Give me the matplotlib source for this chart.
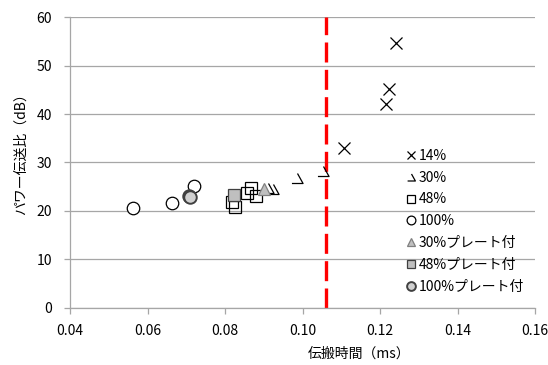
import numpy as np
import matplotlib
matplotlib.use("Agg")
import matplotlib.pyplot as plt
from matplotlib.path import Path
from matplotlib.patches import Rectangle

plt.rcParams['font.family'] = ['Noto Sans CJK JP', 'DejaVu Sans']
plt.rcParams['font.size'] = 10

# data
x14 = [0.1241, 0.1224, 0.1216, 0.1108]
y14 = [54.6, 45.1, 42.1, 32.9]
x30 = [0.0910, 0.0923, 0.0985, 0.1053]
y30 = [24.7, 24.5, 26.7, 28.2]
x48 = [0.0866, 0.0857, 0.0881, 0.0817, 0.0825]
y48 = [24.7, 23.8, 23.1, 21.8, 20.9]
x100 = [0.0563, 0.0663, 0.0719]
y100 = [20.7, 21.7, 25.1]
x30p = [0.0900]
y30p = [24.5]
x48p = [0.0822]
y48p = [23.2]
x100p = [0.0706, 0.0709]
y100p = [23.1, 22.9]
limit_x = 0.106

labels = ["14%", "30%", "48%", "100%", "30%プレート付", "48%プレート付", "100%プレート付"]
xticks = [0.04, 0.06, 0.08, 0.10, 0.12, 0.14, 0.16]
yticks = [0, 10, 20, 30, 40, 50, 60]

# half-drawn triangle like the excel marker (right side + base)
tri = Path([(0, 0.9), (1, -0.9), (-1, -0.9)],
           [Path.MOVETO, Path.LINETO, Path.LINETO])

fig = plt.figure(figsize=(5.48, 3.65), dpi=100)
ax = fig.add_axes([0.1277, 0.157, 0.849, 0.7956])

gray = "#a6a6a6"
ax.set_xlim(0.04, 0.16)
ax.set_ylim(0, 60)
ax.set_xticks(xticks)
ax.set_xticklabels(["%.2f" % v for v in xticks])
ax.set_yticks(yticks)
ax.grid(axis="y", color=gray, lw=0.9, zorder=0)
for s in ["top", "right"]:
    ax.spines[s].set_visible(False)
for s in ["left", "bottom"]:
    ax.spines[s].set_color(gray)
    ax.spines[s].set_linewidth(0.9)
ax.tick_params(axis="both", direction="out", length=4, color=gray, width=0.9, labelsize=10)
ax.tick_params(axis="y", pad=9)
ax.tick_params(axis="x", pad=8)

# white legend area hides the gridlines like in excel
ax.add_patch(Rectangle((0.666, 0.015), 0.334, 0.56, transform=ax.transAxes,
                       facecolor="white", edgecolor="none", zorder=1))

ax.plot([limit_x, limit_x], [0, 60], color="red", lw=2.4, dashes=(6, 2.2), zorder=2)

ms = 8
ax.plot(x14, y14, ls="none", marker="x", ms=ms, mec="black", mew=0.9, label=labels[0], zorder=3)
ax.plot(x30, y30, ls="none", marker=tri, ms=ms, mec="black", mfc="none", mew=0.9, label=labels[1], zorder=3)
ax.plot(x48, y48, ls="none", marker="s", ms=ms, mec="black", mfc="none", mew=0.9, label=labels[2], zorder=3)
ax.plot(x100, y100, ls="none", marker="o", ms=ms + 1, mec="black", mfc="white", mew=0.9, label=labels[3], zorder=3)
ax.plot(x30p, y30p, ls="none", marker="^", ms=ms + 1, mec="#808080", mfc="#bfbfbf", mew=0.9, label=labels[4], zorder=3)
ax.plot(x48p, y48p, ls="none", marker="s", ms=ms, mec="#404040", mfc="#bfbfbf", mew=0.9, label=labels[5], zorder=3)
ax.plot(x100p, y100p, ls="none", marker="o", ms=ms + 1, mec="#404040", mfc="#d0d0d0", mew=1.4, label=labels[6], zorder=3)

leg = ax.legend(loc="upper left", bbox_to_anchor=(0.713, 0.567), frameon=False,
                markerscale=0.7, handlelength=0.6, handletextpad=0.25,
                labelspacing=0.57, borderpad=0.4, borderaxespad=0, fontsize=10)
leg.set_zorder(4)

ax.set_xlabel("伝搬時間（ms）", fontsize=10)
ax.xaxis.set_label_coords(0.622, -0.135)
ax.set_ylabel("パワー伝送比（dB）", fontsize=10)
ax.yaxis.set_label_coords(-0.09, 0.54)

fig.savefig("out.png", dpi=100)
